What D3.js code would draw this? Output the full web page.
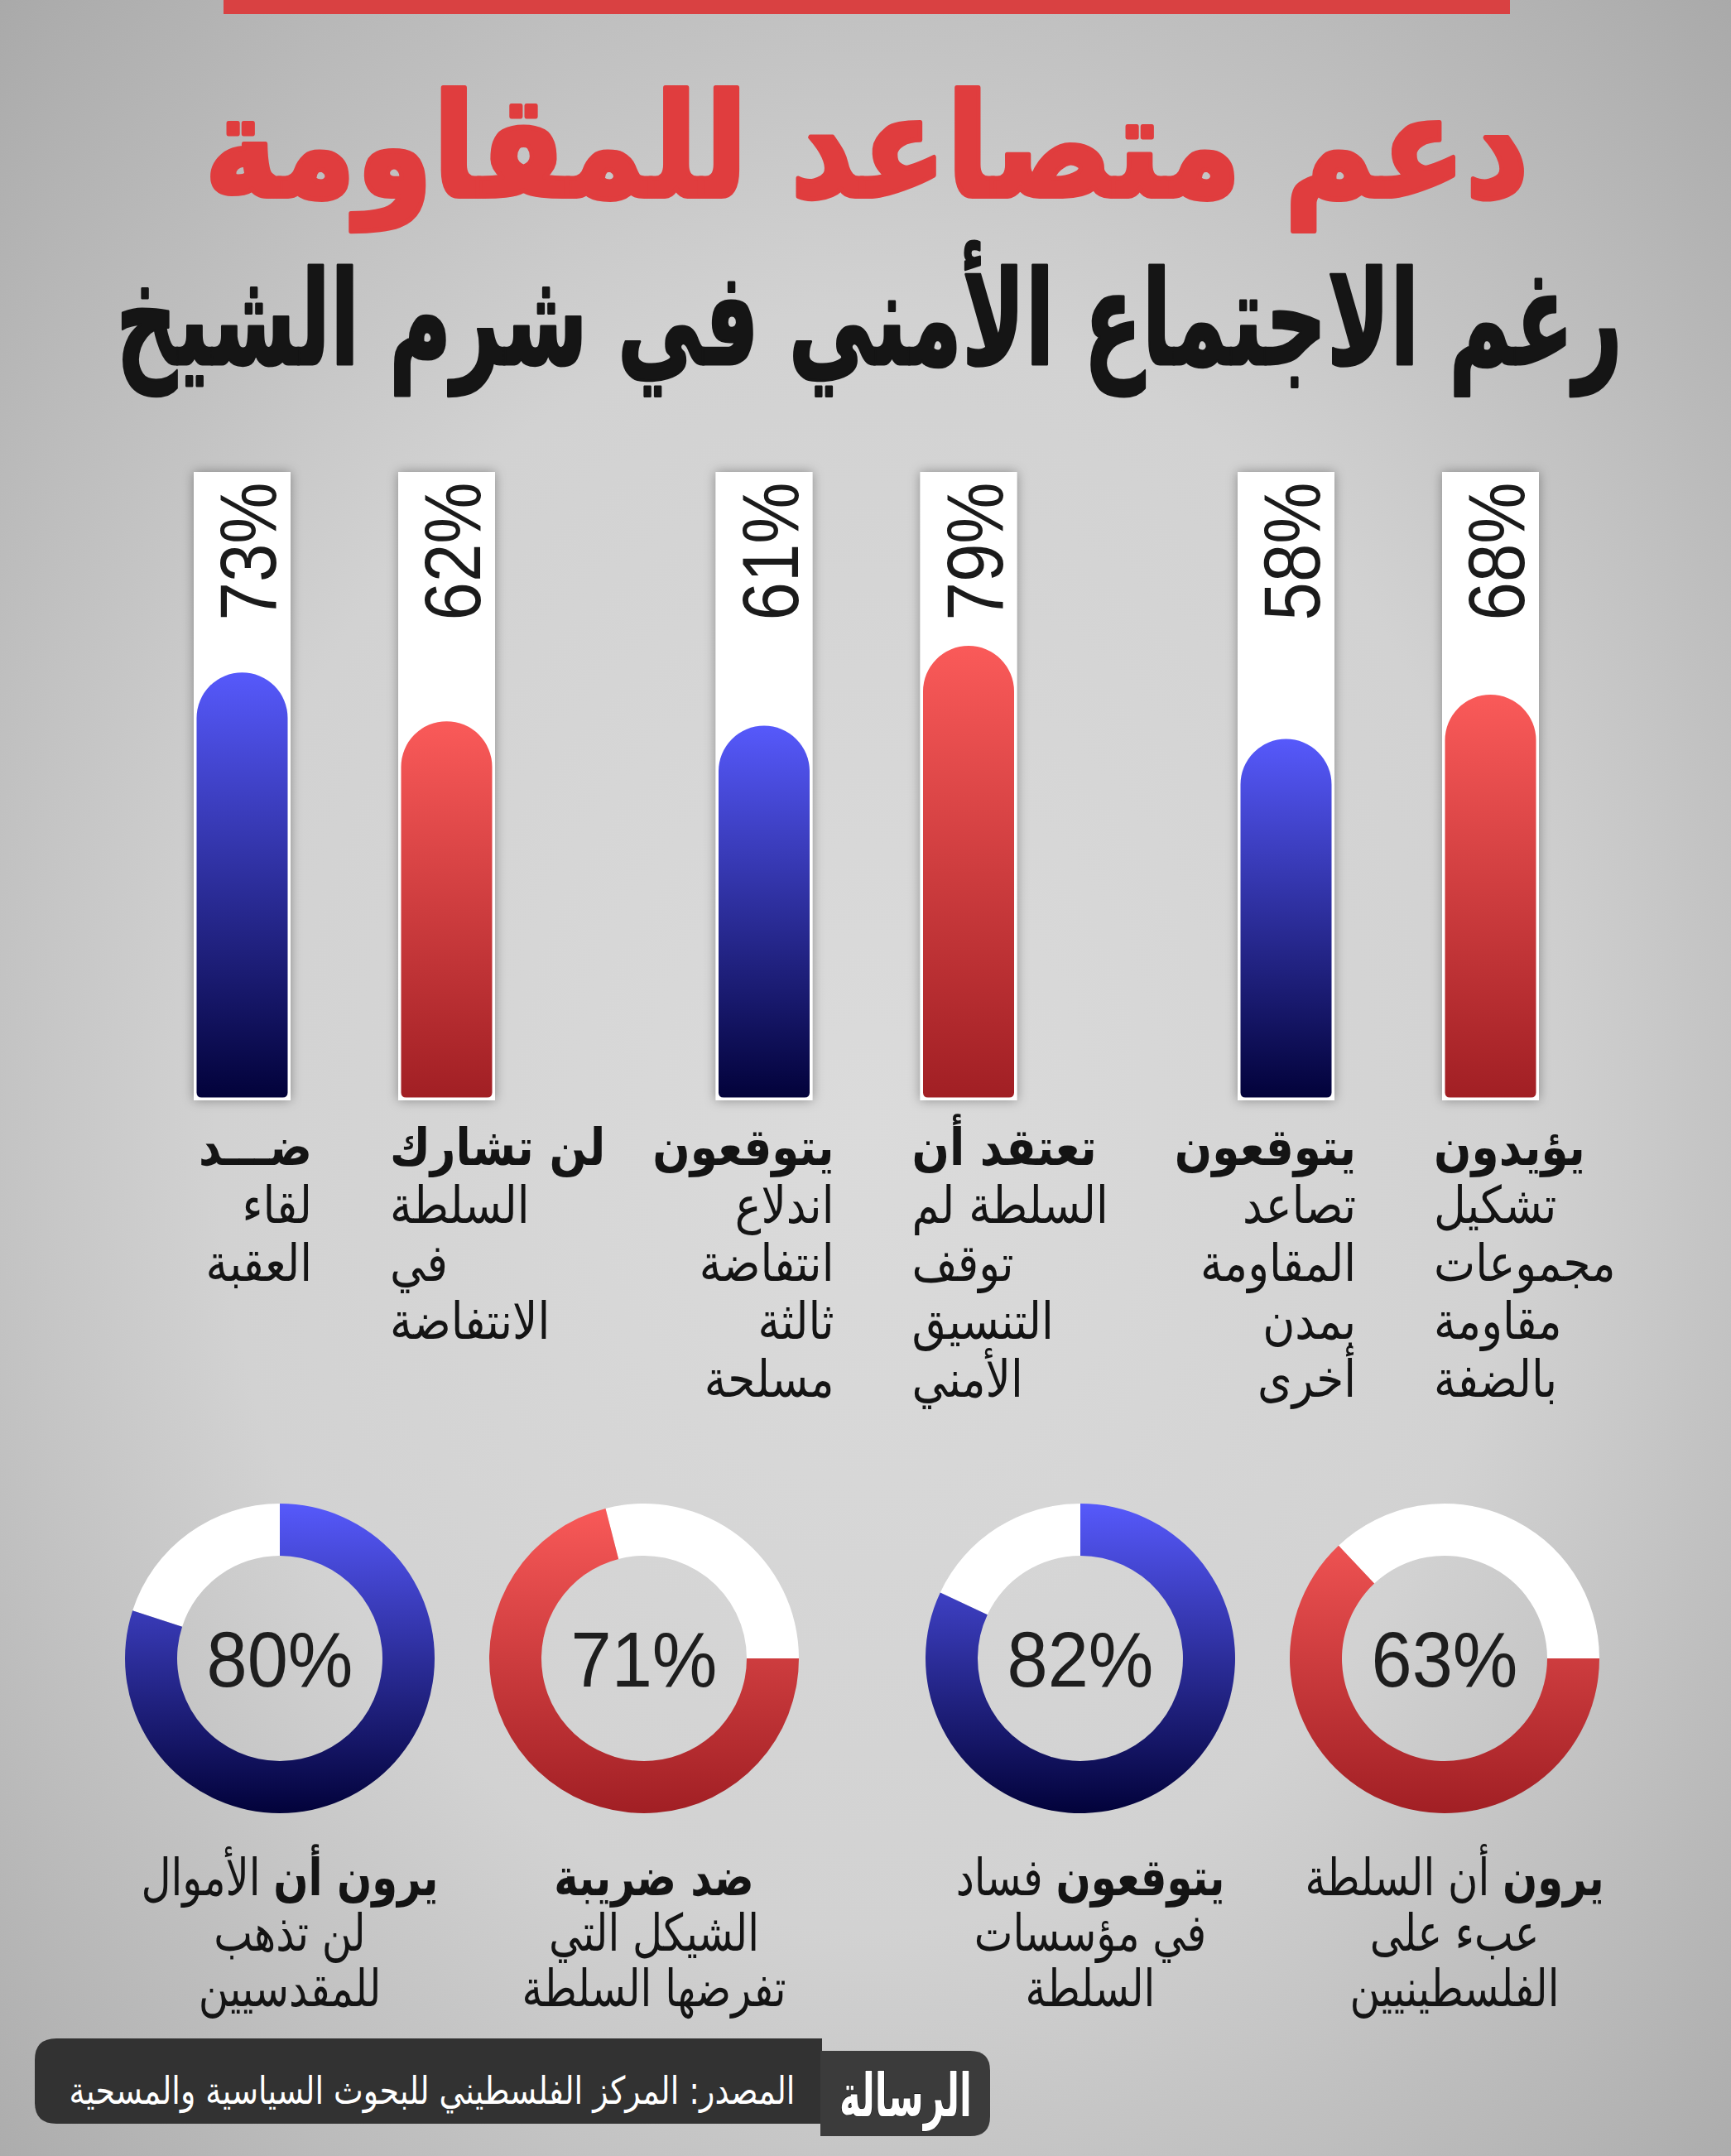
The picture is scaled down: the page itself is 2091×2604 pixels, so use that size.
<!DOCTYPE html>
<html lang="ar">
<head>
<meta charset="utf-8">
<script src="https://cdn.jsdelivr.net/npm/d3@7"></script>
<style>
html, body { margin: 0; padding: 0; background: #c8c8c8; }
svg { display: block; }
</style>
</head>
<body>
<div id="chart"></div>
<script>
// ---- data (ordered right to left, as read) ----
const barIds = ["q1", "q2", "q3", "q4", "q5", "q6"];
const barValues = [68, 58, 79, 61, 62, 73];
const barSeries = ["red", "blue", "red", "blue", "red", "blue"];
const barLabelLines = [
    ["يؤيدون", "تشكيل", "مجموعات", "مقاومة", "بالضفة"],
    ["يتوقعون", "تصاعد", "المقاومة", "بمدن", "أخرى"],
    ["تعتقد أن", "السلطة لم", "توقف", "التنسيق", "الأمني"],
    ["يتوقعون", "اندلاع", "انتفاضة", "ثالثة", "مسلحة"],
    ["لن تشارك", "السلطة", "في", "الانتفاضة"],
    ["ضـــد", "لقاء", "العقبة"]
];

const donutValues = [63, 82, 71, 80];
const donutSeries = ["red", "blue", "red", "blue"];
const donutBold = ["يرون", "يتوقعون", "ضد ضريبة", "يرون أن"];
const donutRest = [" أن السلطة", " فساد", "", " الأموال"];
const donutLine2 = ["عبء على", "في مؤسسات", "الشيكل التي", "لن تذهب"];
const donutLine3 = ["الفلسطينيين", "السلطة", "تفرضها السلطة", "للمقدسيين"];

const titleText = "دعم متصاعد للمقاومة";
const subtitleText = "رغم الاجتماع الأمني في شرم الشيخ";
const sourceText = "المصدر: المركز الفلسطيني للبحوث السياسية والمسحية";
const logoText = "الرسالة";

// ---- layout ----
const W = 2091, H = 2604;
const arabicFont = "'DejaVu Sans', sans-serif";
const latinFont = "'Liberation Sans', Arial, sans-serif";

const svg = d3.select("#chart").append("svg")
    .attr("width", W)
    .attr("height", H);

const defs = svg.append("defs");

// фон
const bg = defs.append("radialGradient").attr("id", "bg")
    .attr("cx", "50%").attr("cy", "52%").attr("r", "75%");
bg.append("stop").attr("offset", 0).attr("stop-color", "#dbdbdb");
bg.append("stop").attr("offset", 0.5).attr("stop-color", "#d2d2d2");
bg.append("stop").attr("offset", 1).attr("stop-color", "#a6a6a6");

const palette = {
    blue: { top: "#5659fb", bottom: "#02023a", start: 0 },
    red: { top: "#fa5a59", bottom: "#a11f24", start: Math.PI / 2 }
};

Object.entries(palette).forEach(([name, c]) => {
    const g = defs.append("linearGradient").attr("id", "bar-" + name)
        .attr("x1", 0).attr("y1", 0).attr("x2", 0).attr("y2", 1);
    g.append("stop").attr("offset", 0).attr("stop-color", c.top);
    g.append("stop").attr("offset", 1).attr("stop-color", c.bottom);

    const r = defs.append("linearGradient").attr("id", "ring-" + name)
        .attr("gradientUnits", "userSpaceOnUse")
        .attr("x1", 0).attr("y1", -187).attr("x2", 0).attr("y2", 187);
    r.append("stop").attr("offset", 0).attr("stop-color", c.top);
    r.append("stop").attr("offset", 1).attr("stop-color", c.bottom);
});

const shadow = defs.append("filter").attr("id", "shadow")
    .attr("x", "-40%").attr("y", "-10%").attr("width", "180%").attr("height", "120%");
shadow.append("feDropShadow")
    .attr("dx", 0).attr("dy", 0)
    .attr("stdDeviation", 7)
    .attr("flood-color", "#000")
    .attr("flood-opacity", 0.35);

svg.append("rect").attr("width", W).attr("height", H).attr("fill", "url(#bg)");

// верхняя красная полоса
svg.append("rect")
    .attr("x", 270).attr("y", 0)
    .attr("width", 1554).attr("height", 17)
    .attr("fill", "#d94142");

// растянуть текст по ширине
function fitText(sel, cx, y, targetWidth) {
    const w = sel.node().getBBox().width;
    sel.attr("transform", `translate(${cx},${y}) scale(${targetWidth / w},1)`);
}

const title = svg.append("text")
    .attr("text-anchor", "middle")
    .style("font-family", arabicFont)
    .style("font-weight", "bold")
    .style("font-size", "172px")
    .attr("fill", "#e03d3e")
    .attr("stroke", "#e03d3e")
    .attr("stroke-width", 6)
    .attr("stroke-linejoin", "round")
    .text(titleText);
fitText(title, 1047, 237, 1600);

const subtitle = svg.append("text")
    .attr("text-anchor", "middle")
    .style("font-family", arabicFont)
    .style("font-weight", "bold")
    .style("font-size", "158px")
    .attr("fill", "#151515")
    .attr("stroke", "#151515")
    .attr("stroke-width", 3)
    .attr("stroke-linejoin", "round")
    .text(subtitleText);
fitText(subtitle, 1050, 440, 1820);

// ---- bars ----
const barW = 117, barTop = 570, barBottom = 1329, inset = 3.5;
const pairGap = 247;
const pairX = d3.scalePoint().domain([0, 1, 2]).range([1742, 481]);
const barX = i => i % 2 === 0 ? pairX(Math.floor(i / 2)) : pairX(Math.floor(i / 2)) - pairGap;

const fillBottom = barBottom - inset;
const y = d3.scaleLinear().domain([0, 100]).range([fillBottom - 122, fillBottom - 658]);

const bars = svg.selectAll(".bar")
    .data(barIds)
    .enter()
    .append("g")
    .attr("class", "bar");

bars.append("rect")
    .attr("x", (d, i) => barX(i))
    .attr("y", barTop)
    .attr("width", barW)
    .attr("height", barBottom - barTop)
    .attr("fill", "#fff")
    .attr("filter", "url(#shadow)");

bars.append("path")
    .attr("fill", (d, i) => `url(#bar-${barSeries[i]})`)
    .attr("d", (d, i) => {
        const x0 = barX(i) + inset, x1 = barX(i) + barW - inset;
        const r = (x1 - x0) / 2, rb = 6, top = y(barValues[i]);
        return `M${x0},${fillBottom - rb} L${x0},${top + r} A${r},${r} 0 0 1 ${x1},${top + r}` +
            ` L${x1},${fillBottom - rb} Q${x1},${fillBottom} ${x1 - rb},${fillBottom}` +
            ` L${x0 + rb},${fillBottom} Q${x0},${fillBottom} ${x0},${fillBottom - rb} Z`;
    });

bars.append("text")
    .attr("transform", (d, i) => `translate(${barX(i) + 99},666) rotate(-90) scale(0.86,1)`)
    .attr("text-anchor", "middle")
    .style("font-family", latinFont)
    .style("font-size", "97px")
    .attr("fill", "#1b1b1b")
    .text((d, i) => barValues[i] + "%");

// подписи под столбцами
const labelScale = 0.86;
bars.each(function (d, i) {
    const rightBar = i % 2 === 0;
    const ax = rightBar ? barX(i) - 10 : barX(i) + barW + 26;
    const g = d3.select(this).append("g")
        .attr("transform", `translate(${ax},0) scale(${labelScale},1)`);
    barLabelLines[i].forEach((line, k) => {
        g.append("text")
            .attr("x", 0)
            .attr("y", 1407 + k * 70)
            .attr("text-anchor", rightBar ? "start" : "end")
            .style("font-family", arabicFont)
            .style("font-size", "62px")
            .style("font-weight", k === 0 ? "bold" : "normal")
            .attr("fill", "#141414")
            .text(line);
    });
});

// ---- donuts ----
const rOuter = 187, rInner = 124, donutY = 2003;
const donutPair = d3.scalePoint().domain([0, 1]).range([1745, 778]);
const donutX = i => i % 2 === 0 ? donutPair(Math.floor(i / 2)) : donutPair(Math.floor(i / 2)) - 440;
const angle = d3.scaleLinear().domain([0, 100]).range([0, 2 * Math.PI]);
const arc = d3.arc().innerRadius(rInner).outerRadius(rOuter);

const donuts = svg.selectAll(".donut")
    .data(donutValues)
    .enter()
    .append("g")
    .attr("class", "donut")
    .attr("transform", (d, i) => `translate(${donutX(i)},${donutY})`);

donuts.append("path")
    .attr("fill", "#fff")
    .attr("d", (d, i) => {
        const s = palette[donutSeries[i]].start;
        return arc({ startAngle: s + angle(d), endAngle: s + 2 * Math.PI });
    });

donuts.append("path")
    .attr("fill", (d, i) => `url(#ring-${donutSeries[i]})`)
    .attr("d", (d, i) => {
        const s = palette[donutSeries[i]].start;
        return arc({ startAngle: s, endAngle: s + angle(d) });
    });

donuts.append("text")
    .attr("y", 34)
    .attr("text-anchor", "middle")
    .attr("transform", "scale(0.94,1)")
    .style("font-family", latinFont)
    .style("font-size", "94px")
    .attr("fill", "#1e1e1e")
    .text(d => d + "%");

donuts.each(function (d, i) {
    const g = d3.select(this).append("g")
        .attr("transform", `translate(12,0) scale(0.8,1)`);
    const t1 = g.append("text")
        .attr("y", 286)
        .attr("text-anchor", "middle")
        .style("font-family", arabicFont)
        .style("font-size", "62px")
        .attr("fill", "#141414");
    t1.append("tspan").style("font-weight", "bold").text(donutBold[i]);
    if (donutRest[i]) t1.append("tspan").text(donutRest[i]);
    [donutLine2[i], donutLine3[i]].forEach((line, k) => {
        g.append("text")
            .attr("y", 353 + k * 67)
            .attr("text-anchor", "middle")
            .style("font-family", arabicFont)
            .style("font-size", "62px")
            .attr("fill", "#141414")
            .text(line);
    });
});

// ---- footer ----
const footer = svg.append("g");
footer.append("path")
    .attr("d", "M993,2462 L993,2565 L68,2565 Q42,2565 42,2539 L42,2488 Q42,2462 68,2462 Z")
    .attr("fill", "#323232");
footer.append("path")
    .attr("d", "M991,2477 L1172,2477 Q1196,2477 1196,2501 L1196,2556 Q1196,2580 1172,2580 L991,2580 Z")
    .attr("fill", "#3b3b3b");

const source = footer.append("text")
    .attr("text-anchor", "middle")
    .style("font-family", arabicFont)
    .style("font-size", "46px")
    .attr("fill", "#fff")
    .text(sourceText);
fitText(source, 522, 2541, 877);

const logo = footer.append("text")
    .attr("text-anchor", "middle")
    .style("font-family", arabicFont)
    .style("font-weight", "bold")
    .style("font-size", "72px")
    .attr("fill", "#fff")
    .attr("stroke", "#111")
    .attr("stroke-width", 1.5)
    .attr("paint-order", "stroke")
    .text(logoText);
fitText(logo, 1094, 2556, 160);
</script>
</body>
</html>
